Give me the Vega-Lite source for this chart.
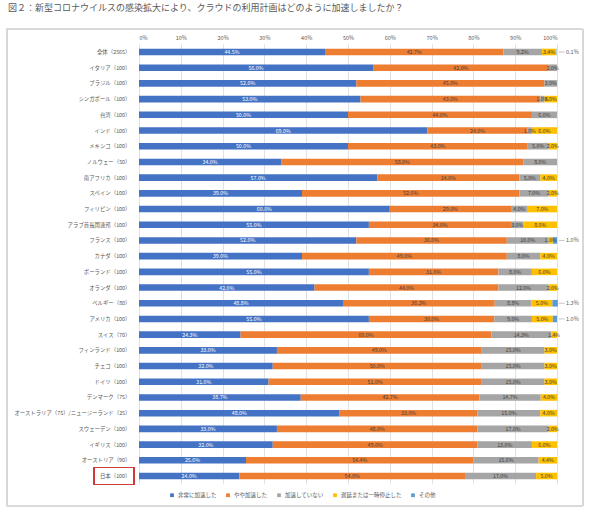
{
  "$schema": "https://vega.github.io/schema/vega-lite/v6.json",
  "autosize": "none",
  "width": 418,
  "height": 440,
  "padding": {"left": 139, "top": 44, "right": 33, "bottom": 28},
  "background": "white",
  "title": {
    "text": "図２：新型コロナウイルスの感染拡大により、クラウドの利用計画はどのように加速しましたか？",
    "anchor": "start",
    "frame": "group",
    "dx": -131,
    "offset": 16,
    "fontSize": 9,
    "fontWeight": "normal",
    "color": "#595959",
    "font": "Noto Sans CJK JP"
  },
  "config": {
    "font": "Noto Sans CJK JP",
    "view": {"stroke": null},
    "axis": {"labelFont": "Noto Sans CJK JP"},
    "legend": {"labelFont": "Noto Sans CJK JP"}
  },
  "datasets": {
    "cats": [
      {"k": "非常に加速した", "o": 1},
      {"k": "やや加速した", "o": 2},
      {"k": "加速していない", "o": 3},
      {"k": "遅延または一時停止した", "o": 4},
      {"k": "その他", "o": 5}
    ]
  },
  "data": {"values": [
    {"c": "全体（2565）", "k": "非常に加速した", "v": 44.5},
    {"c": "全体（2565）", "k": "やや加速した", "v": 42.7},
    {"c": "全体（2565）", "k": "加速していない", "v": 9.2},
    {"c": "全体（2565）", "k": "遅延または一時停止した", "v": 3.4},
    {"c": "全体（2565）", "k": "その他", "v": 0.1},
    {"c": "イタリア（100）", "k": "非常に加速した", "v": 56.0},
    {"c": "イタリア（100）", "k": "やや加速した", "v": 42.0},
    {"c": "イタリア（100）", "k": "加速していない", "v": 2.0},
    {"c": "ブラジル（100）", "k": "非常に加速した", "v": 52.0},
    {"c": "ブラジル（100）", "k": "やや加速した", "v": 45.0},
    {"c": "ブラジル（100）", "k": "加速していない", "v": 3.0},
    {"c": "シンガポール（100）", "k": "非常に加速した", "v": 53.0},
    {"c": "シンガポール（100）", "k": "やや加速した", "v": 43.0},
    {"c": "シンガポール（100）", "k": "加速していない", "v": 1.0},
    {"c": "シンガポール（100）", "k": "遅延または一時停止した", "v": 3.0},
    {"c": "台湾（100）", "k": "非常に加速した", "v": 50.0},
    {"c": "台湾（100）", "k": "やや加速した", "v": 44.0},
    {"c": "台湾（100）", "k": "加速していない", "v": 6.0},
    {"c": "インド（100）", "k": "非常に加速した", "v": 69.0},
    {"c": "インド（100）", "k": "やや加速した", "v": 24.0},
    {"c": "インド（100）", "k": "加速していない", "v": 1.0},
    {"c": "インド（100）", "k": "遅延または一時停止した", "v": 6.0},
    {"c": "メキシコ（100）", "k": "非常に加速した", "v": 50.0},
    {"c": "メキシコ（100）", "k": "やや加速した", "v": 43.0},
    {"c": "メキシコ（100）", "k": "加速していない", "v": 5.0},
    {"c": "メキシコ（100）", "k": "遅延または一時停止した", "v": 2.0},
    {"c": "ノルウェー（50）", "k": "非常に加速した", "v": 34.0},
    {"c": "ノルウェー（50）", "k": "やや加速した", "v": 58.0},
    {"c": "ノルウェー（50）", "k": "加速していない", "v": 8.0},
    {"c": "南アフリカ（100）", "k": "非常に加速した", "v": 57.0},
    {"c": "南アフリカ（100）", "k": "やや加速した", "v": 34.0},
    {"c": "南アフリカ（100）", "k": "加速していない", "v": 5.0},
    {"c": "南アフリカ（100）", "k": "遅延または一時停止した", "v": 4.0},
    {"c": "スペイン（100）", "k": "非常に加速した", "v": 39.0},
    {"c": "スペイン（100）", "k": "やや加速した", "v": 52.0},
    {"c": "スペイン（100）", "k": "加速していない", "v": 7.0},
    {"c": "スペイン（100）", "k": "遅延または一時停止した", "v": 2.0},
    {"c": "フィリピン（100）", "k": "非常に加速した", "v": 60.0},
    {"c": "フィリピン（100）", "k": "やや加速した", "v": 29.0},
    {"c": "フィリピン（100）", "k": "加速していない", "v": 4.0},
    {"c": "フィリピン（100）", "k": "遅延または一時停止した", "v": 7.0},
    {"c": "アラブ首長国連邦（100）", "k": "非常に加速した", "v": 55.0},
    {"c": "アラブ首長国連邦（100）", "k": "やや加速した", "v": 34.0},
    {"c": "アラブ首長国連邦（100）", "k": "加速していない", "v": 3.0},
    {"c": "アラブ首長国連邦（100）", "k": "遅延または一時停止した", "v": 8.0},
    {"c": "フランス（100）", "k": "非常に加速した", "v": 52.0},
    {"c": "フランス（100）", "k": "やや加速した", "v": 36.0},
    {"c": "フランス（100）", "k": "加速していない", "v": 10.0},
    {"c": "フランス（100）", "k": "遅延または一時停止した", "v": 1.0},
    {"c": "フランス（100）", "k": "その他", "v": 1.0},
    {"c": "カナダ（100）", "k": "非常に加速した", "v": 39.0},
    {"c": "カナダ（100）", "k": "やや加速した", "v": 49.0},
    {"c": "カナダ（100）", "k": "加速していない", "v": 8.0},
    {"c": "カナダ（100）", "k": "遅延または一時停止した", "v": 4.0},
    {"c": "ポーランド（100）", "k": "非常に加速した", "v": 55.0},
    {"c": "ポーランド（100）", "k": "やや加速した", "v": 31.0},
    {"c": "ポーランド（100）", "k": "加速していない", "v": 8.0},
    {"c": "ポーランド（100）", "k": "遅延または一時停止した", "v": 6.0},
    {"c": "オランダ（100）", "k": "非常に加速した", "v": 42.0},
    {"c": "オランダ（100）", "k": "やや加速した", "v": 44.0},
    {"c": "オランダ（100）", "k": "加速していない", "v": 12.0},
    {"c": "オランダ（100）", "k": "遅延または一時停止した", "v": 2.0},
    {"c": "ベルギー（80）", "k": "非常に加速した", "v": 48.8},
    {"c": "ベルギー（80）", "k": "やや加速した", "v": 36.3},
    {"c": "ベルギー（80）", "k": "加速していない", "v": 8.8},
    {"c": "ベルギー（80）", "k": "遅延または一時停止した", "v": 5.0},
    {"c": "ベルギー（80）", "k": "その他", "v": 1.3},
    {"c": "アメリカ（100）", "k": "非常に加速した", "v": 55.0},
    {"c": "アメリカ（100）", "k": "やや加速した", "v": 30.0},
    {"c": "アメリカ（100）", "k": "加速していない", "v": 9.0},
    {"c": "アメリカ（100）", "k": "遅延または一時停止した", "v": 5.0},
    {"c": "アメリカ（100）", "k": "その他", "v": 1.0},
    {"c": "スイス（70）", "k": "非常に加速した", "v": 24.3},
    {"c": "スイス（70）", "k": "やや加速した", "v": 60.0},
    {"c": "スイス（70）", "k": "加速していない", "v": 14.3},
    {"c": "スイス（70）", "k": "遅延または一時停止した", "v": 1.4},
    {"c": "フィンランド（100）", "k": "非常に加速した", "v": 33.0},
    {"c": "フィンランド（100）", "k": "やや加速した", "v": 49.0},
    {"c": "フィンランド（100）", "k": "加速していない", "v": 15.0},
    {"c": "フィンランド（100）", "k": "遅延または一時停止した", "v": 3.0},
    {"c": "チェコ（100）", "k": "非常に加速した", "v": 32.0},
    {"c": "チェコ（100）", "k": "やや加速した", "v": 50.0},
    {"c": "チェコ（100）", "k": "加速していない", "v": 15.0},
    {"c": "チェコ（100）", "k": "遅延または一時停止した", "v": 3.0},
    {"c": "ドイツ（100）", "k": "非常に加速した", "v": 31.0},
    {"c": "ドイツ（100）", "k": "やや加速した", "v": 51.0},
    {"c": "ドイツ（100）", "k": "加速していない", "v": 15.0},
    {"c": "ドイツ（100）", "k": "遅延または一時停止した", "v": 3.0},
    {"c": "デンマーク（75）", "k": "非常に加速した", "v": 38.7},
    {"c": "デンマーク（75）", "k": "やや加速した", "v": 42.7},
    {"c": "デンマーク（75）", "k": "加速していない", "v": 14.7},
    {"c": "デンマーク（75）", "k": "遅延または一時停止した", "v": 4.0},
    {"c": "オーストラリア（75）/ニュージーランド（25）", "k": "非常に加速した", "v": 48.0},
    {"c": "オーストラリア（75）/ニュージーランド（25）", "k": "やや加速した", "v": 33.0},
    {"c": "オーストラリア（75）/ニュージーランド（25）", "k": "加速していない", "v": 15.0},
    {"c": "オーストラリア（75）/ニュージーランド（25）", "k": "遅延または一時停止した", "v": 4.0},
    {"c": "スウェーデン（100）", "k": "非常に加速した", "v": 33.0},
    {"c": "スウェーデン（100）", "k": "やや加速した", "v": 48.0},
    {"c": "スウェーデン（100）", "k": "加速していない", "v": 17.0},
    {"c": "スウェーデン（100）", "k": "遅延または一時停止した", "v": 2.0},
    {"c": "イギリス（100）", "k": "非常に加速した", "v": 32.0},
    {"c": "イギリス（100）", "k": "やや加速した", "v": 49.0},
    {"c": "イギリス（100）", "k": "加速していない", "v": 13.0},
    {"c": "イギリス（100）", "k": "遅延または一時停止した", "v": 6.0},
    {"c": "オーストリア（90）", "k": "非常に加速した", "v": 25.6},
    {"c": "オーストリア（90）", "k": "やや加速した", "v": 54.4},
    {"c": "オーストリア（90）", "k": "加速していない", "v": 15.6},
    {"c": "オーストリア（90）", "k": "遅延または一時停止した", "v": 4.4},
    {"c": "日本（100）", "k": "非常に加速した", "v": 24.0},
    {"c": "日本（100）", "k": "やや加速した", "v": 54.0},
    {"c": "日本（100）", "k": "加速していない", "v": 17.0},
    {"c": "日本（100）", "k": "遅延または一時停止した", "v": 5.0}
  ]},
  "transform": [
    {"lookup": "k", "from": {"data": {"name": "cats"}, "key": "k", "fields": ["o"]}},
    {"stack": "v", "groupby": ["c"], "sort": [{"field": "o", "order": "ascending"}], "as": ["v0", "v1"]},
    {"calculate": "(datum.v0 + datum.v1) / 2", "as": "mid"},
    {"calculate": "format(datum.v, '.1f') + '%'", "as": "lab"}
  ],
  "encoding": {
    "y": {
      "field": "c", "type": "nominal", "sort": null,
      "scale": {"paddingInner": 0.58, "paddingOuter": 0.3},
      "axis": {"title": null, "ticks": false, "domain": false, "labelPadding": 9, "labelFontSize": 5.4, "labelColor": "#595959"}
    }
  },
  "layer": [
    {
      "mark": {"type": "bar"},
      "encoding": {
        "x": {
          "field": "v0", "type": "quantitative",
          "scale": {"domain": [0, 100], "nice": false},
          "axis": {"orient": "top", "title": null, "values": [0,10,20,30,40,50,60,70,80,90,100], "labelExpr": "datum.value + '%'", "ticks": false, "domain": false, "labelPadding": 4, "labelFontSize": 5.5, "labelColor": "#595959", "gridColor": "#d9d9d9", "gridWidth": 0.8}
        },
        "x2": {"field": "v1"},
        "color": {
          "field": "k", "type": "nominal",
          "scale": {"domain": ["非常に加速した", "やや加速した", "加速していない", "遅延または一時停止した", "その他"], "range": ["#4472C4", "#ED7D31", "#A5A5A5", "#FFC000", "#5B9BD5"]},
          "legend": {"title": null, "orient": "none", "legendX": 30, "legendY": 448, "direction": "horizontal", "symbolType": "square", "symbolSize": 14, "labelFontSize": 5.5, "labelOffset": 3, "labelColor": "#595959", "columnPadding": 8}
        }
      }
    },
    {
      "transform": [{"filter": "datum.k !== 'その他'"}],
      "mark": {"type": "text", "fontSize": 5.3, "baseline": "middle"},
      "encoding": {
        "x": {"field": "mid", "type": "quantitative"},
        "text": {"field": "lab"},
        "color": {"condition": {"test": "datum.k === '非常に加速した'", "value": "white"}, "value": "#404040"}
      }
    },
    {
      "transform": [{"filter": "datum.k === 'その他'"}],
      "mark": {"type": "rule", "color": "#a0a0a0", "strokeWidth": 0.6},
      "encoding": {"x": {"datum": 100.4}, "x2": {"datum": 101.8}}
    },
    {
      "transform": [{"filter": "datum.k === 'その他'"}],
      "mark": {"type": "text", "fontSize": 5.5, "align": "left", "baseline": "middle", "dx": 9, "color": "#595959"},
      "encoding": {"x": {"datum": 100}, "text": {"field": "lab"}}
    },
    {
      "mark": {"type": "bar", "fill": null, "fillOpacity": 0, "stroke": "#D03A3A", "strokeWidth": 1.2, "height": 17},
      "encoding": {"x": {"datum": -10.8}, "x2": {"datum": -1.2}, "y": {"datum": "日本（100）"}}
    },
    {
      "mark": {"type": "rect", "fill": null, "fillOpacity": 0, "stroke": "#d9d9d9", "strokeWidth": 0.8, "yOffset": -23, "y2Offset": 30},
      "encoding": {"x": {"datum": -31.6}, "x2": {"datum": 106.2}, "y": {"datum": "全体（2565）"}, "y2": {"datum": "日本（100）"}}
    }
  ]
}
